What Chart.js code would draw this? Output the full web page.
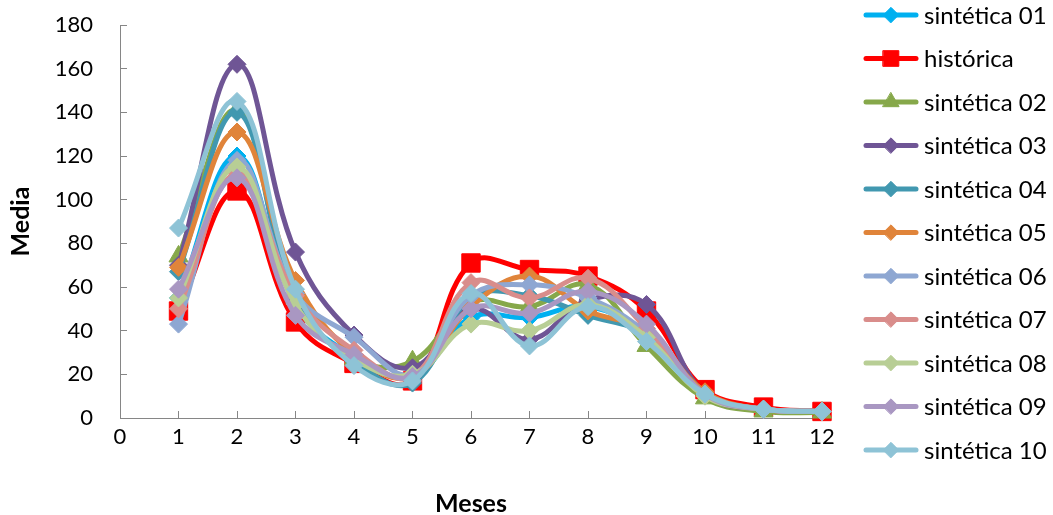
<!DOCTYPE html>
<html>
<head>
<meta charset="utf-8">
<script src="https://cdn.jsdelivr.net/npm/chart.js@4.4.1/dist/chart.umd.min.js"></script>
<style>
  html, body { margin: 0; padding: 0; background: #fff; }
</style>
</head>
<body>
<canvas id="chartMedia" width="1053" height="515"></canvas>
<script>
// Months and monthly means per series
const months = [1, 2, 3, 4, 5, 6, 7, 8, 9, 10, 11, 12];
const sintetica01 = [55, 120, 52, 28, 19, 46, 46, 51, 38, 11, 4, 3];
const historica   = [49, 104, 44, 25, 17, 71, 68, 65, 49, 13, 5, 3];
const sintetica02 = [74, 141, 55, 27, 26, 53, 51, 61, 33, 9, 3, 2.5];
const sintetica03 = [70, 162, 76, 38, 23, 50, 36, 54, 52, 11, 4, 3];
const sintetica04 = [67, 140, 54, 26, 16, 55, 56, 47, 38, 11, 4, 3];
const sintetica05 = [69, 131, 63, 29, 19, 51, 65, 49, 40, 12, 4, 3];
const sintetica06 = [43, 118, 57, 37, 20, 56, 61, 55, 39, 11, 4, 3];
const sintetica07 = [50, 112, 56, 31, 19, 62, 55, 64, 41, 11, 4, 3];
const sintetica08 = [55, 115, 52, 27, 20, 43, 40, 52, 37, 10, 4, 3];
const sintetica09 = [59, 110, 47, 29, 19, 50, 48, 58, 43, 11, 4, 3];
const sintetica10 = [87, 145, 59, 24, 17, 57, 33, 51, 35, 11, 4, 3];

const seriesNames = ['sintética 01', 'histórica', 'sintética 02', 'sintética 03', 'sintética 04',
  'sintética 05', 'sintética 06', 'sintética 07', 'sintética 08', 'sintética 09', 'sintética 10'];
const seriesValues = [sintetica01, historica, sintetica02, sintetica03, sintetica04,
  sintetica05, sintetica06, sintetica07, sintetica08, sintetica09, sintetica10];
const seriesColors = ['#00B0F0', '#FF0000', '#86A84A', '#6F5595', '#4198B0',
  '#E0843A', '#8EA7D2', '#D98D8B', '#B8CE95', '#A997C2', '#8EC3D6'];
const seriesMarkers = ['rectRot', 'rect', 'triangle', 'rectRot', 'rectRot',
  'rectRot', 'rectRot', 'rectRot', 'rectRot', 'rectRot', 'rectRot'];

const FONT = 'Lato';

// legend on the right: line sample + marker + name
const sideLegend = {
    id: 'sideLegend',
    afterDraw(chart) {
        const ctx = chart.ctx;
        ctx.save();
        chart.data.datasets.forEach((ds, i) => {
            const y = 15 + i * 43.5;
            ctx.strokeStyle = ds.borderColor;
            ctx.fillStyle = ds.borderColor;
            ctx.lineWidth = 5;
            ctx.lineCap = 'round';
            ctx.beginPath();
            ctx.moveTo(866, y);
            ctx.lineTo(916, y);
            ctx.stroke();
            ctx.lineWidth = 1;
            Chart.helpers.drawPoint(ctx, {
                pointStyle: ds.pointStyle,
                radius: ds.pointRadius * 0.85,
                rotation: 0,
                borderWidth: 1
            }, 891, y);
            ctx.fillStyle = '#000';
            ctx.font = '24px ' + FONT;
            ctx.textBaseline = 'middle';
            ctx.textAlign = 'left';
            ctx.fillText(ds.label, 924, y + 1);
        });
        ctx.restore();
    }
};

const datasets = seriesNames.map((name, i) => ({
    label: name,
    data: months.map((m, k) => ({ x: m, y: seriesValues[i][k] })),
    borderColor: seriesColors[i],
    backgroundColor: seriesColors[i],
    pointBackgroundColor: seriesColors[i],
    pointBorderColor: seriesColors[i],
    pointStyle: seriesMarkers[i],
    pointRadius: seriesMarkers[i] === 'rect' ? 13 : (seriesMarkers[i] === 'triangle' ? 11 : 9),
    pointBorderWidth: 1,
    borderWidth: 5,
    tension: 0.4,
    clip: false,
    order: seriesNames.length - 1 - i
}));

new Chart(document.getElementById('chartMedia'), {
    type: 'line',
    data: { datasets: datasets },
    options: {
        responsive: false,
        animation: false,
        devicePixelRatio: 1,
        layout: { padding: { left: 0, right: 231, top: 25, bottom: 0 } },
        plugins: {
            legend: { display: false },
            tooltip: { enabled: false }
        },
        scales: {
            x: {
                type: 'linear',
                min: 0,
                max: 12,
                ticks: { stepSize: 1, color: '#000', font: { family: FONT, size: 22 }, padding: 13 },
                grid: { drawOnChartArea: false, tickLength: -7, color: '#868686' },
                border: { color: '#868686', width: 1 },
                title: { display: true, text: 'Meses', color: '#000', font: { family: FONT, size: 25, weight: 'bold' }, padding: { top: 0, bottom: -4 } },
                afterFit(scale) { scale.height = 97; scale.paddingLeft = 0; scale.paddingRight = 0; }
            },
            y: {
                min: 0,
                max: 180,
                ticks: { stepSize: 20, color: '#000', font: { family: FONT, size: 22 }, padding: 34 },
                grid: { drawOnChartArea: false, tickLength: -7, color: '#868686' },
                border: { color: '#868686', width: 1 },
                title: { display: true, text: 'Media', color: '#000', font: { family: FONT, size: 25, weight: 'bold' }, padding: { top: 6, bottom: 0 } },
                afterFit(scale) { scale.width = 120; scale.paddingTop = 0; scale.paddingBottom = 0; }
            }
        }
    },
    plugins: [sideLegend]
});
</script>
</body>
</html>
